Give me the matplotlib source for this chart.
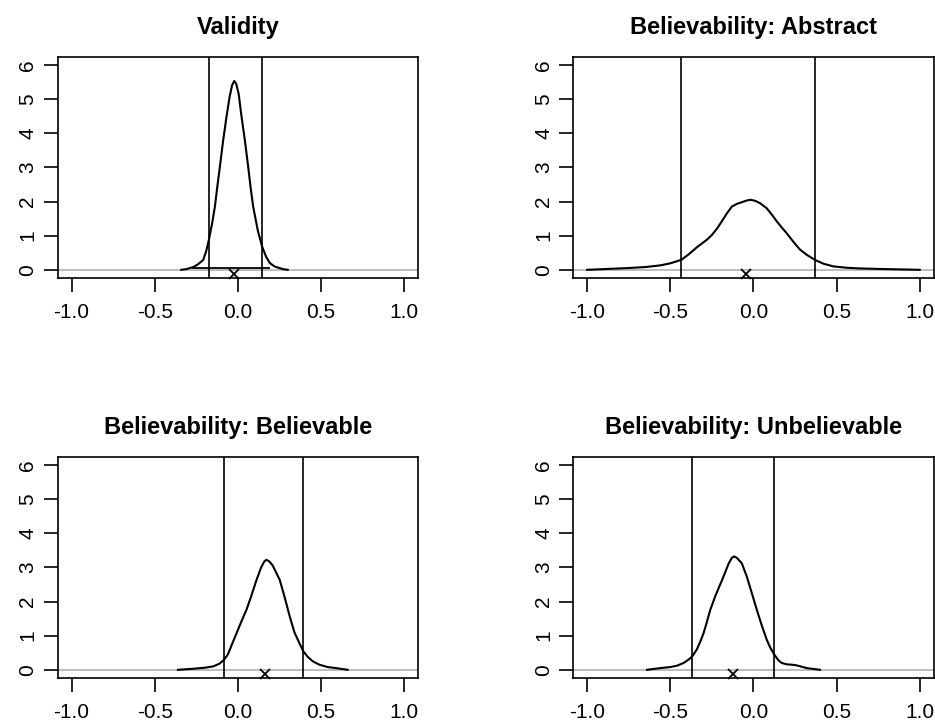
import matplotlib
matplotlib.use("Agg")
import matplotlib.pyplot as plt

plt.rcParams['font.family'] = ['Liberation Sans', 'DejaVu Sans']

titles = ["Validity", "Believability: Abstract",
          "Believability: Believable", "Believability: Unbelievable"]

# density curves
x1 = [-0.34, -0.31, -0.268, -0.24, -0.208, -0.19, -0.174, -0.155, -0.138, -0.123,
      -0.108, -0.088, -0.068, -0.05, -0.035, -0.022, -0.01, 0.005, 0.022, 0.042,
      0.062, 0.077, 0.092, 0.12, 0.146, 0.17, 0.192, 0.22, 0.25, 0.272, 0.30]
y1 = [0.0, 0.02, 0.08, 0.16, 0.29, 0.55, 0.88, 1.35, 1.85, 2.45,
      3.02, 3.8, 4.49, 5.05, 5.4, 5.53, 5.45, 5.15, 4.49, 3.8,
      3.02, 2.4, 1.85, 1.15, 0.68, 0.38, 0.2, 0.1, 0.05, 0.02, 0.0]

x2 = [-1.0, -0.9, -0.76, -0.65, -0.56, -0.5, -0.434, -0.39, -0.34, -0.28, -0.25,
      -0.22, -0.19, -0.16, -0.13, -0.10, -0.07, -0.04, -0.016, 0.01, 0.04,
      0.08, 0.11, 0.14, 0.17, 0.2, 0.24, 0.28, 0.32, 0.37, 0.42,
      0.48, 0.56, 0.64, 0.8, 1.0]
y2 = [0.0, 0.02, 0.05, 0.08, 0.13, 0.19, 0.29, 0.45, 0.66, 0.88, 1.02,
      1.2, 1.42, 1.65, 1.85, 1.93, 1.98, 2.03, 2.05, 2.02, 1.95,
      1.8, 1.62, 1.42, 1.24, 1.07, 0.82, 0.59, 0.44, 0.29, 0.18,
      0.1, 0.06, 0.04, 0.02, 0.0]

x3 = [-0.36, -0.27, -0.2, -0.148, -0.11, -0.084, -0.06, -0.035, -0.008, 0.02,
      0.052, 0.08, 0.11, 0.14, 0.16, 0.172, 0.19, 0.21, 0.23, 0.252,
      0.28, 0.312, 0.34, 0.37, 0.394, 0.42, 0.45, 0.49, 0.54, 0.59, 0.66]
y3 = [0.0, 0.03, 0.06, 0.1, 0.18, 0.29, 0.45, 0.75, 1.07, 1.4,
      1.76, 2.15, 2.6, 3.0, 3.18, 3.22, 3.17, 3.05, 2.85, 2.63,
      2.15, 1.56, 1.1, 0.78, 0.54, 0.38, 0.25, 0.15, 0.08, 0.05, 0.0]

x4 = [-0.64, -0.56, -0.5, -0.46, -0.42, -0.39, -0.368, -0.34, -0.32, -0.30,
      -0.28, -0.26, -0.23, -0.2, -0.18, -0.15, -0.13, -0.116, -0.1, -0.07,
      -0.04, -0.01, 0.02, 0.05, 0.08, 0.1, 0.126, 0.15, 0.17, 0.2,
      0.23, 0.26, 0.29, 0.32, 0.40]
y4 = [0.0, 0.05, 0.08, 0.12, 0.2, 0.3, 0.39, 0.6, 0.82, 1.07,
      1.4, 1.75, 2.15, 2.5, 2.73, 3.1, 3.28, 3.32, 3.28, 3.12,
      2.73, 2.25, 1.76, 1.3, 0.88, 0.66, 0.44, 0.28, 0.2, 0.16,
      0.15, 0.13, 0.09, 0.05, 0.0]

xs = [x1, x2, x3, x4]
ys = [y1, y2, y3, y4]

# interval limits (vertical lines)
lo = [-0.174, -0.434, -0.084, -0.368]
hi = [0.146, 0.370, 0.394, 0.126]
# means (x markers)
means = [-0.024, -0.046, 0.166, -0.12]
# range of sample rug near zero (only visible in the first panel)
rug_lo = [-0.27, -0.60, -0.15, -0.46]
rug_hi = [0.19, 0.52, 0.45, 0.17]
rug_alpha = [1.0, 0.0, 0.0, 0.0]

xticks = [-1.0, -0.5, 0.0, 0.5, 1.0]
yticks = [0, 1, 2, 3, 4, 5, 6]

W, H = 935, 724
fig = plt.figure(figsize=(W / 100, H / 100), dpi=100)

lefts = [57.7, 573.3, 57.7, 573.3]
tops = [56.7, 56.7, 456.7, 456.7]
bw, bh = 360.3, 221.3

for i in range(4):
    ax = fig.add_axes([lefts[i] / W, 1 - (tops[i] + bh) / H, bw / W, bh / H])
    ax.set_xlim(-1.083, 1.083)
    ax.set_ylim(-0.24, 6.24)
    ax.axhline(0, color="#b8b8b8", lw=1.3, zorder=1)
    if rug_alpha[i] > 0:
        ax.plot([rug_lo[i], rug_hi[i]], [0.05, 0.05], color="black", lw=1.3,
                alpha=rug_alpha[i], zorder=2)
    ax.plot(xs[i], ys[i], color="black", lw=1.5, zorder=3)
    ax.axvline(lo[i], color="black", lw=1.2)
    ax.axvline(hi[i], color="black", lw=1.2)
    ax.plot([means[i]], [-0.12], marker="x", color="black", ms=7, mew=1.3,
            linestyle="none", clip_on=False, zorder=4)
    ax.set_xticks(xticks)
    ax.set_xticklabels([f"{t:.1f}" for t in xticks])
    ax.set_yticks(yticks)
    ax.set_yticklabels([str(t) for t in yticks], rotation=90, va="center")
    ax.tick_params(direction="out", length=10, width=1.2, labelsize=15)
    ax.tick_params(axis="x", pad=8)
    ax.tick_params(axis="y", pad=4.6)
    for s in ax.spines.values():
        s.set_linewidth(1.2)
    ax.set_title(titles[i], fontsize=17, fontweight="bold", pad=16)

fig.savefig("out.png", dpi=100)
